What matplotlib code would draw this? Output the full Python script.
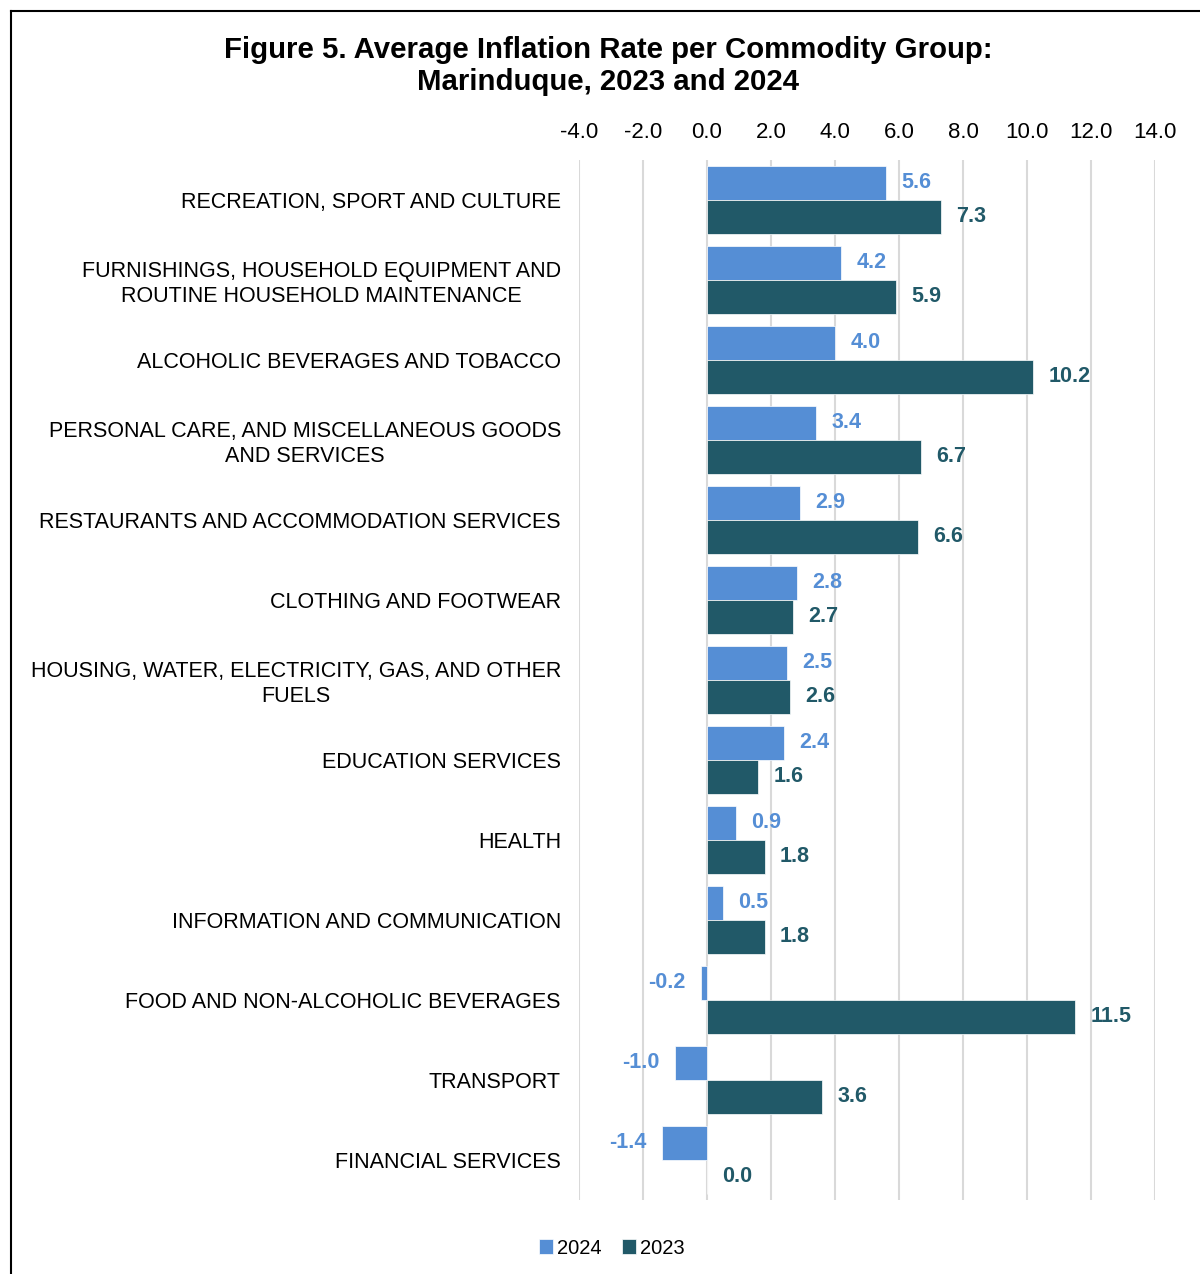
import matplotlib.pyplot as plt
import numpy as np
from matplotlib.lines import Line2D

plt.rcParams['font.family'] = ['Liberation Sans', 'DejaVu Sans']

categories = [
    "RECREATION, SPORT AND CULTURE",
    "FURNISHINGS, HOUSEHOLD EQUIPMENT AND\nROUTINE HOUSEHOLD MAINTENANCE",
    "ALCOHOLIC BEVERAGES AND TOBACCO",
    "PERSONAL CARE, AND MISCELLANEOUS GOODS\nAND SERVICES",
    "RESTAURANTS AND ACCOMMODATION SERVICES",
    "CLOTHING AND FOOTWEAR",
    "HOUSING, WATER, ELECTRICITY, GAS, AND OTHER\nFUELS",
    "EDUCATION SERVICES",
    "HEALTH",
    "INFORMATION AND COMMUNICATION",
    "FOOD AND NON-ALCOHOLIC BEVERAGES",
    "TRANSPORT",
    "FINANCIAL SERVICES",
]
rate_2024 = [5.6, 4.2, 4.0, 3.4, 2.9, 2.8, 2.5, 2.4, 0.9, 0.5, -0.2, -1.0, -1.4]
rate_2023 = [7.3, 5.9, 10.2, 6.7, 6.6, 2.7, 2.6, 1.6, 1.8, 1.8, 11.5, 3.6, 0.0]
xticks = [-4, -2, 0, 2, 4, 6, 8, 10, 12, 14]

c24 = '#558ED5'
c23 = '#215968'

fig = plt.figure(figsize=(12, 12.74), dpi=100)
ax = fig.add_axes([579/1200, 1-1200/1274, (1155-579)/1200, (1200-160)/1274])

y = np.arange(len(categories))
h = 0.425
ax.barh(y - h/2, rate_2024, height=h, color=c24, edgecolor='white', linewidth=0.5, zorder=3, label='2024')
ax.barh(y + h/2, rate_2023, height=h, color=c23, edgecolor='white', linewidth=0.5, zorder=3, label='2023')

# data labels
for yi, v in zip(y, rate_2024):
    if v >= 0:
        ax.annotate(f'{v:.1f}', (v, yi - h/2), xytext=(11, 0), textcoords='offset points',
                    ha='left', va='center', fontsize=15.5, fontweight='bold', color=c24)
    else:
        ax.annotate(f'{v:.1f}', (v, yi - h/2), xytext=(-11, 0), textcoords='offset points',
                    ha='right', va='center', fontsize=15.5, fontweight='bold', color=c24)
for yi, v in zip(y, rate_2023):
    ax.annotate(f'{v:.1f}', (v, yi + h/2), xytext=(11, 0), textcoords='offset points',
                ha='left', va='center', fontsize=15.5, fontweight='bold', color=c23)

ax.set_xlim(-4, 14)
ax.set_ylim(len(categories) - 0.5, -0.5)
ax.set_xticks(xticks)
ax.set_xticklabels([f'{t:.1f}' for t in xticks], fontsize=16)
ax.xaxis.tick_top()
ax.tick_params(axis='x', length=0, pad=12)
ax.set_yticks(y)
ax.set_yticklabels(categories, fontsize=15.5, multialignment='center')
for lbl in ax.get_yticklabels():
    lbl.set_linespacing(1.22)
ax.tick_params(axis='y', length=0, pad=13)
ax.grid(axis='x', color='#d9d9d9', linewidth=1.5, zorder=0)
for s in ax.spines.values():
    s.set_visible(False)

fig.text(0.507, 1-66/1274, 'Figure 5. Average Inflation Rate per Commodity Group:\nMarinduque, 2023 and 2024',
         ha='center', va='center', fontsize=21.2, fontweight='bold', linespacing=1.2)

fig.legend(loc='center', bbox_to_anchor=(612/1200, 1-1248/1274), ncol=2, frameon=False,
           fontsize=14.5, handlelength=0.7, handleheight=0.7, handletextpad=0.2, columnspacing=1.0)

# frame lines (left and top)
fig.add_artist(Line2D([10.5/1200, 10.5/1200], [0, 1-10.5/1274], color='black', linewidth=1.5))
fig.add_artist(Line2D([10.5/1200, 1], [1-10.5/1274, 1-10.5/1274], color='black', linewidth=1.5))

fig.savefig('out.png', dpi=100)
